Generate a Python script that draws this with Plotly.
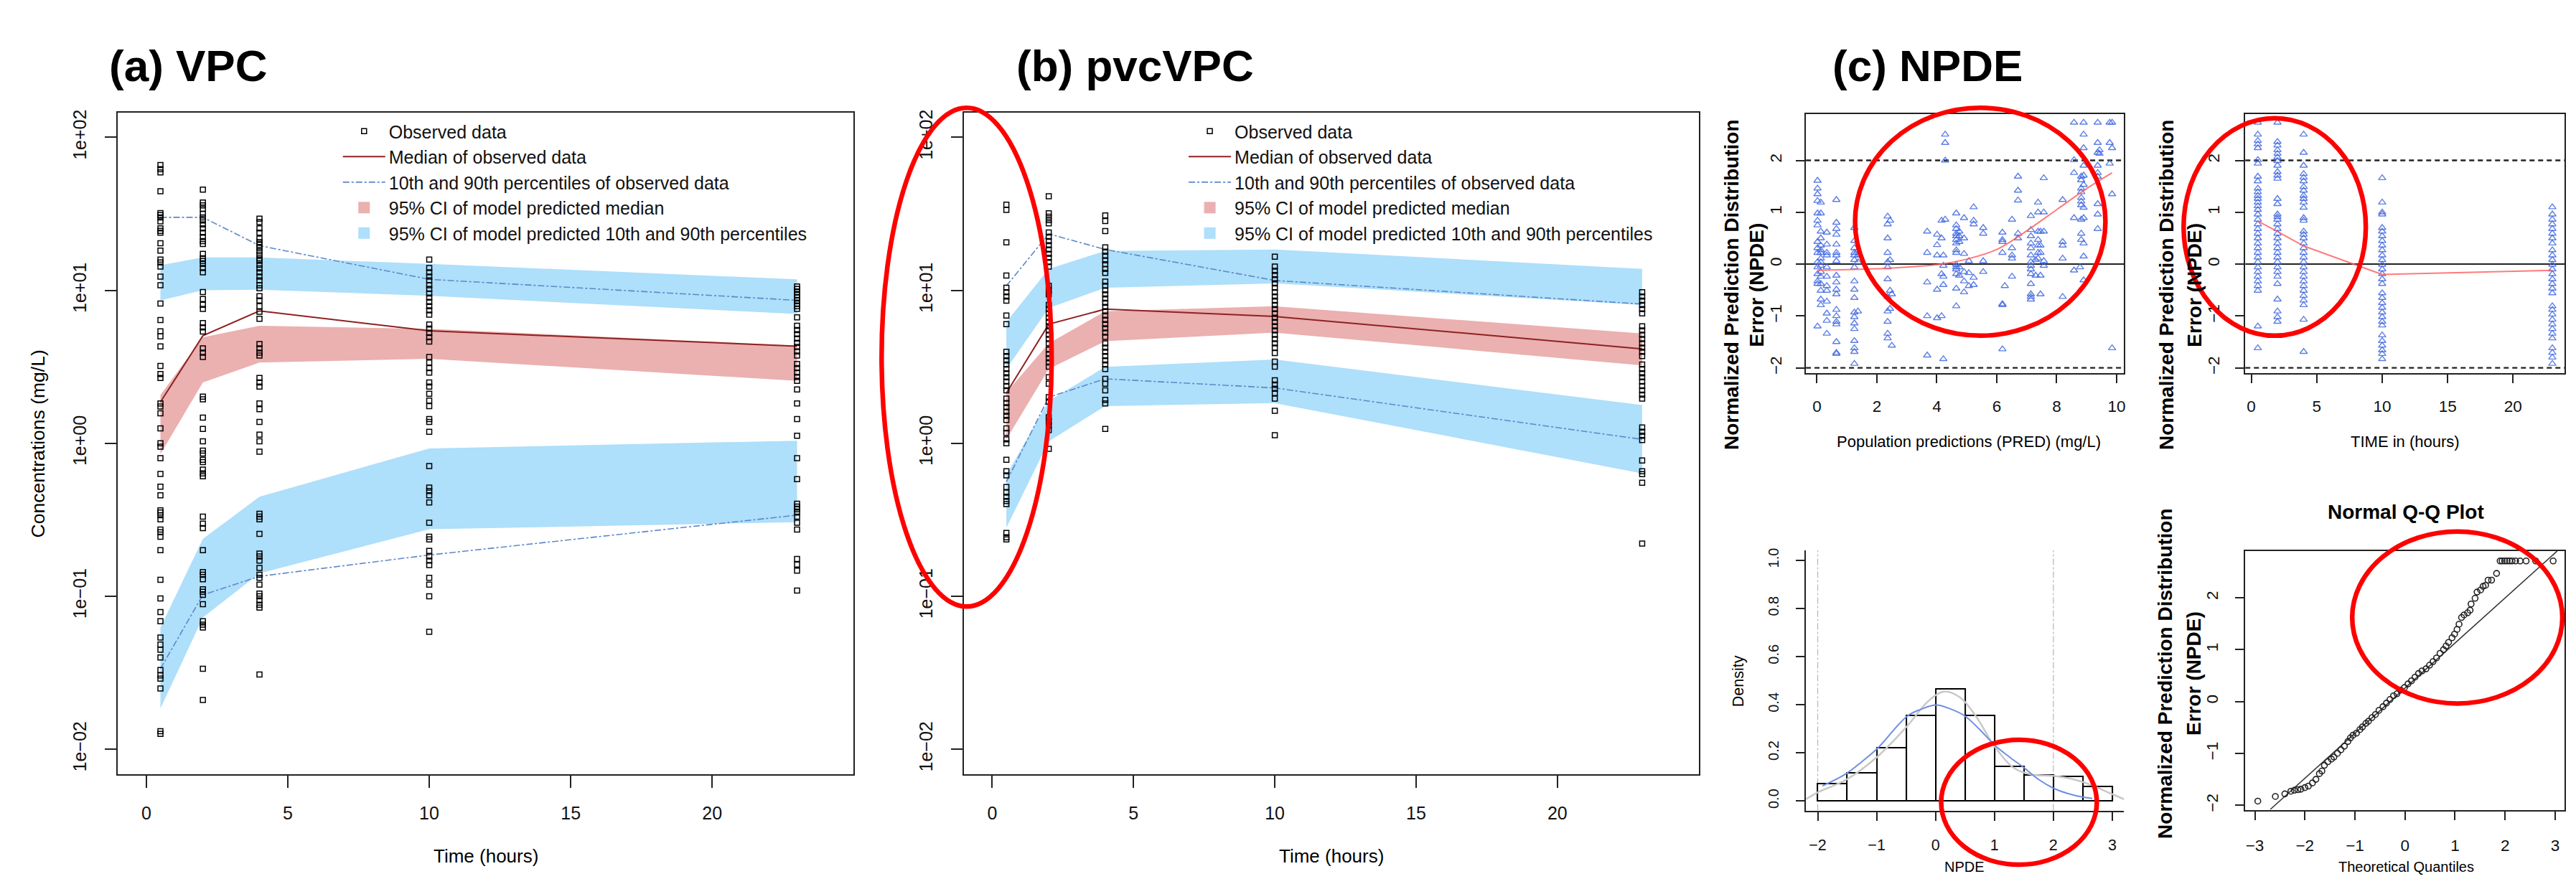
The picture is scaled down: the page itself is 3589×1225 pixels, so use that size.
import plotly.graph_objects as go

W, H = 3589, 1225
def fx(p): return p / W
def fy(p): return 1 - p / H

FONT = "Liberation Sans, Arial, sans-serif"

# ===================== DATA =====================
times = [0.5, 2, 4, 10, 23]

# ---- (a) VPC ----
a_obs_05 = [66, 62, 59, 44.5, 32, 31, 30, 28.2, 25.4, 24.5, 23.8, 20.3, 18.2, 15.9, 15.2, 14.3, 12.3, 10.8, 8.2, 6.4,
            5.4, 5.0, 4.3, 3.2, 2.84, 2.67, 1.82, 1.74, 1.57, 1.25, 1.0, 0.95, 0.80, 0.63, 0.52, 0.457, 0.364, 0.353,
            0.339, 0.318, 0.273, 0.262, 0.245, 0.20, 0.128, 0.0966, 0.0787, 0.0686, 0.0537, 0.0483, 0.0447, 0.0398,
            0.0329, 0.0304, 0.0289, 0.0249, 0.0131, 0.0126]
a_obs_2 = [45.6, 37.5, 35.9, 34.1, 31.6, 30, 28.6, 27, 25.4, 23.8, 22.3, 21, 20.1, 17.3, 16.2, 15.6, 14.9, 14, 13.1,
           9.75, 8.77, 8.05, 7.55, 6.1, 5.73, 5.38, 4.17, 3.91, 3.67, 2.02, 1.94, 1.47, 1.24, 1.03, 0.895, 0.857, 0.78,
           0.754, 0.672, 0.635, 0.608, 0.331, 0.298, 0.279, 0.2, 0.144, 0.138, 0.129, 0.111, 0.107, 0.102, 0.0887,
           0.0686, 0.0652, 0.0625, 0.0336, 0.021]
a_obs_4 = [29.4, 27.9, 25.4, 23.8, 21.8, 20.7, 19.8, 19, 18, 17.1, 16.2, 15.6, 14.7, 13.9, 13.1, 12.3, 11.6, 10.8, 10.3,
           9.15, 8.58, 7.88, 7.24, 6.51, 4.45, 4.17, 3.91, 3.75, 2.67, 2.5, 2.35, 1.82, 1.67, 1.38, 1.14, 1.03, 0.88,
           0.346, 0.331, 0.318, 0.256, 0.19, 0.182, 0.171, 0.153, 0.138, 0.132, 0.119, 0.104, 0.1, 0.0938, 0.088,
           0.0843, 0.0308]
a_obs_10 = [15.9, 14, 13.1, 12.3, 11.6, 10.8, 10.2, 9.54, 8.96, 8.4, 7.88, 7.4, 6.94, 5.98, 5.61, 5.26, 4.94, 4.63, 3.67,
            3.37, 3.1, 2.9, 2.5, 2.35, 2.11, 1.9, 1.75, 1.44, 1.38, 1.19, 0.71, 0.513, 0.487, 0.457, 0.41, 0.302, 0.245,
            0.235, 0.198, 0.182, 0.171, 0.16, 0.132, 0.119, 0.1, 0.0586]
a_obs_23 = [10.6, 10.2, 9.75, 9.33, 8.96, 8.58, 8.2, 7.88, 7.55, 6.65, 5.86, 5.5, 5.16, 4.84, 4.54, 4.26, 3.99, 3.75,
            3.3, 3.1, 2.9, 2.72, 2.56, 2.25, 1.82, 1.44, 1.12, 0.8, 0.583, 0.402, 0.385, 0.37, 0.353, 0.331, 0.302,
            0.273, 0.175, 0.161, 0.147, 0.109]
a_med_hi = [2.07, 4.94, 5.86, 5.6, 4.35]
a_med_lo = [0.85, 2.5, 3.37, 3.57, 2.56]
a_p90_hi = [14.6, 16.4, 16.4, 14.9, 11.8]
a_p90_lo = [8.6, 10.0, 10.1, 9.2, 7.0]
a_p10_hi = [0.0625, 0.237, 0.447, 0.925, 1.04]
a_p10_lo = [0.0185, 0.0726, 0.141, 0.274, 0.305]
a_obs_p50 = [1.86, 5.05, 7.33, 5.44, 4.31]
a_obs_p90 = [30, 30, 19.6, 11.8, 8.6]
a_obs_p10 = [0.0336, 0.102, 0.135, 0.186, 0.339]

# ---- (b) pvcVPC ----
b_obs_05 = [36.3, 33.6, 20.6, 12.5, 10.4, 9.73, 9.12, 8.55, 6.84, 6.01, 3.96, 3.72, 3.48, 3.27, 3.06, 2.87, 2.7, 2.53,
            2.37, 2.22, 1.96, 1.83, 1.72, 1.61, 1.51, 1.42, 1.25, 1.17, 1.06, 1.0, 0.78, 0.656, 0.616, 0.518, 0.476,
            0.447, 0.419, 0.40, 0.259, 0.243, 0.235]
b_obs_2 = [41.2, 31.9, 30.3, 28.8, 27.4, 23.9, 22.4, 21, 19.7, 18.5, 17.3, 16.3, 15.3, 14.3, 10.7, 10.0, 9.42, 8.03,
           7.53, 7.06, 6.62, 6.21, 5.82, 5.46, 5.12, 4.8, 4.5, 4.09, 3.84, 3.6, 3.38, 3.17, 2.7, 2.45, 2.0, 1.87, 1.48,
           1.39, 1.31, 1.22, 0.92]
b_obs_4 = [30.9, 28.4, 24.4, 19.1, 17.9, 16.8, 15.7, 14.8, 13.8, 13.0, 11.4, 10.7, 10.0, 9.42, 8.84, 8.28, 7.78, 7.29,
           6.84, 6.41, 6.01, 5.64, 5.29, 4.96, 4.5, 4.22, 3.96, 3.72, 3.48, 3.27, 3.06, 2.64, 2.45, 2.22, 1.92, 1.82,
           1.24]
b_obs_10 = [16.6, 14.3, 13.4, 12.6, 11.8, 11.1, 10.4, 9.73, 9.12, 8.55, 8.03, 7.53, 7.06, 6.62, 6.21, 5.82, 5.46, 5.12,
            4.8, 4.5, 4.22, 3.89, 3.42, 3.17, 2.58, 2.42, 2.27, 2.13, 1.96, 1.63, 1.13]
b_obs_23 = [9.73, 9.12, 8.55, 8.03, 7.53, 7.06, 5.82, 5.46, 5.12, 4.8, 4.5, 4.22, 3.96, 3.72, 3.27, 3.06, 2.87, 2.7,
            2.53, 2.37, 2.22, 2.08, 1.96, 1.27, 1.19, 1.12, 1.05, 0.771, 0.656, 0.628, 0.552, 0.221]
b_med_hi = [2.15, 4.5, 7.3, 7.87, 5.22]
b_med_lo = [1.06, 3.06, 4.65, 5.29, 3.23]
b_p90_hi = [6.2, 13.8, 18.1, 18.5, 13.8]
b_p90_lo = [3.06, 7.67, 10.4, 11.1, 8.03]
b_p10_hi = [0.62, 1.89, 3.16, 3.53, 1.78]
b_p10_lo = [0.28, 1.03, 1.75, 1.83, 0.636]
b_obs_p50 = [2.13, 6.0, 7.53, 6.75, 4.14]
b_obs_p90 = [10.7, 23.4, 18.5, 11.6, 8.13]
b_obs_p10 = [0.56, 2.0, 2.64, 2.3, 1.06]

vpc_ticks = [0.01, 0.1, 1, 10, 100]
vpc_ticktext = ["1e\u221202", "1e\u221201", "1e+00", "1e+01", "1e+02"]
time_ticks = [0, 5, 10, 15, 20]

legend_labels = ["Observed data", "Median of observed data", "10th and 90th percentiles of observed data",
                 "95% CI of model predicted median", "95% CI of model predicted 10th and 90th percentiles"]

# ---- (c) NPDE vs PRED ----
c1_pred_cols = [0.02, 0.13, 0.33, 0.65, 1.25, 1.37, 2.36, 2.44, 2.50, 3.68, 4.01, 4.16, 4.22, 4.28, 4.65, 4.75, 4.91,
                5.07, 5.23, 5.55, 6.19, 6.27, 6.51, 6.71, 7.14, 7.30, 7.38, 7.46, 7.57, 8.20, 8.58, 8.78, 8.82, 8.90,
                9.37, 9.43, 9.77, 9.85]
c1_npde_cols = [
    [1.61, 1.46, 1.35, 1.22, 0.98, 0.84, 0.75, 0.43, 0.31, 0.22, 0.04, -0.06, -0.19, -0.33, -0.38, -1.20],
    [1.19, 0.98, 0.63, 0.50, 0.36, 0.27, 0.22, 0.11, 0.04, -0.03, -0.15, -0.24, -0.38, -0.51, -0.68, -0.79],
    [0.61, 0.38, 0.22, 0.17, -0.06, -0.24, -0.42, -0.51, -0.72, -0.95, -1.09, -1.34],
    [1.24, 0.80, 0.68, 0.57, 0.38, 0.22, 0.17, 0.06, -0.22, -0.35, -0.49, -0.58, -0.88, -1.00, -1.11, -1.16, -1.50,
     -1.71, -1.73],
    [0.70, 0.45, 0.31, 0.22, 0.17, 0.08, -0.06, -0.33, -0.49, -0.65, -0.93, -1.02, -1.14, -1.25, -1.48, -1.62, -1.69,
     -1.92],
    [0.27, 0.17, 0.04, -0.91],
    [0.92, 0.77, 0.50, 0.22, 0.04, -0.06, -0.29, -0.63, -0.91, -1.11, -1.34, -1.43],
    [0.84, 0.08, -0.51, -0.86],
    [-0.58, -1.57],
    [0.63, 0.22, -0.35, -1.00, -1.76],
    [0.57, 0.37, 0.17, -0.49, -1.04],
    [0.84, 0.50, -0.19, -1.00],
    [0.17, -0.03, -0.24, -0.40, -1.83],
    [2.50, 2.34, 2.00, 0.86],
    [0.98, 0.75, 0.68, 0.59, 0.54, 0.47, 0.40, 0.27, 0.22, -0.01, -0.06, -0.10, -0.19, -0.47, -0.81],
    [0.63, 0.54, 0.43, -0.06, -0.22],
    [0.89, 0.50, 0.20, -0.15, -0.33, -0.54],
    [0.06, -0.17, -0.42],
    [1.10, 0.84, 0.77, -0.26, -0.40],
    [0.70, 0.59, 0.06, -0.15],
    [0.61, 0.47, 0.43, 0.22, -0.77, -0.79, -1.64],
    [-0.42],
    [0.86, 0.31, 0.17, 0.11, -0.24],
    [1.69, 1.42, 1.23, 0.59, 0.50],
    [0.93, 0.66, 0.54, 0.40, 0.31, 0.17, 0.04, -0.03, -0.10, -0.19, -0.38, -0.58, -0.63, -0.68],
    [0.08, -0.22],
    [1.19, 1.00, 0.63, 0.47, 0.36, 0.22, 0.11],
    [0.63, 0.36, 0.22, -0.22, -0.58],
    [1.66, 1.00, 0.63, 0.06, -0.03],
    [1.24, 0.43, 0.36, 0.11, -0.63],
    [2.73, 2.01, 1.76, 0.89, -0.12],
    [-0.06],
    [1.69, 1.62, 1.46, 1.39, 1.28, 1.21, 1.14, 0.86, 0.59, 0.47],
    [2.73, 2.50, 2.24, 1.90, 1.71, 1.53, 1.09, 0.89, 0.40, 0.15, -0.31],
    [2.73, 2.34, 2.15, 1.90, 1.76, 1.69, 1.16, 0.96, 0.68],
    [2.20, 2.13],
    [2.73, 2.34, 1.94],
    [2.73, 2.24, 1.35, -1.62],
]
c1_smooth_x = [0.02, 1.99, 4.01, 5.03, 6.03, 7.02, 8.0, 9.01, 9.85]
c1_smooth_y = [-0.12, -0.09, -0.01, 0.10, 0.29, 0.65, 1.05, 1.46, 1.76]

# ---- (c) NPDE vs TIME ----
c2_npde_05 = [2.73, 2.50, 2.38, 2.31, 2.24, 2.01, 1.94, 1.69, 1.60, 1.46, 1.39, 1.32, 1.26, 1.19, 1.12, 1.05, 0.96,
              0.86, 0.77, 0.68, 0.59, 0.50, 0.40, 0.31, 0.22, 0.13, 0.04, -0.06, -0.15, -0.24, -0.33, -0.42, -0.51,
              -1.20, -1.62]
c2_npde_2 = [2.73, 2.36, 2.29, 2.20, 2.13, 2.06, 1.99, 1.90, 1.78, 1.71, 1.65, 1.26, 1.16, 0.96, 0.91, 0.86, 0.77,
             0.68, 0.59, 0.50, 0.40, 0.31, 0.22, 0.13, 0.04, -0.06, -0.15, -0.24, -0.38, -0.68, -0.91, -1.02, -1.11]
c2_npde_4 = [2.50, 2.15, 1.90, 1.74, 1.67, 1.60, 1.49, 1.42, 1.32, 1.26, 1.19, 1.09, 0.89, 0.84, 0.63, 0.57, 0.50,
             0.40, 0.31, 0.22, 0.13, 0.04, -0.06, -0.15, -0.24, -0.33, -0.42, -0.51, -0.61, -0.70, -0.79, -1.07, -1.69]
c2_npde_10 = [1.66, 1.19, 1.00, 0.96, 0.70, 0.63, 0.54, 0.45, 0.36, 0.27, 0.17, 0.08, -0.01, -0.10, -0.19, -0.29,
              -0.38, -0.56, -0.65, -0.75, -0.84, -0.93, -1.02, -1.11, -1.18, -1.37, -1.48, -1.57, -1.66, -1.73, -1.83]
c2_npde_23 = [1.10, 0.96, 0.86, 0.77, 0.68, 0.59, 0.50, 0.40, 0.27, 0.17, 0.08, -0.01, -0.10, -0.19, -0.29, -0.38,
              -0.47, -0.56, -0.81, -0.88, -0.97, -1.07, -1.16, -1.25, -1.34, -1.43, -1.62, -1.71, -1.80, -1.92]
c2_smooth_y = [0.83, 0.63, 0.35, -0.20, -0.12]

npde_ref_solid = [0]
npde_ref_dashed = [-2, 2]

# ---- (c) histogram ----
hist_edges = [-2, -1.5, -1, -0.5, 0, 0.5, 1, 1.5, 2, 2.5, 3]
hist_density = [0.072, 0.115, 0.22, 0.355, 0.466, 0.355, 0.143, 0.106, 0.102, 0.061]
norm_curve_x = [-1.92, -1.51, -1.25, -0.99, -0.48, -0.25, 0.01, 0.25, 0.50, 0.75, 1.0, 1.25, 1.5, 1.75, 1.99, 2.25,
                2.51, 2.66]
norm_curve_y = [0.062, 0.114, 0.163, 0.217, 0.352, 0.38, 0.398, 0.382, 0.352, 0.296, 0.232, 0.183, 0.138, 0.089,
                0.054, 0.03, 0.015, 0.01]
kde_curve_x = [-2.2, -2.0, -1.51, -0.99, -0.48, -0.12, 0.15, 0.42, 0.69, 1.0, 1.32, 1.63, 1.99, 2.35, 2.66, 2.93, 3.2]
kde_curve_y = [0.007, 0.035, 0.089, 0.183, 0.311, 0.415, 0.454, 0.429, 0.35, 0.227, 0.138, 0.109, 0.104, 0.089,
               0.064, 0.035, 0.007]
hist_ref_v = [-2, 2]

# ---- (c) QQ ----
qq_theoretical = [-2.94, -2.59, -2.40, -2.28, -2.21, -2.14, -2.08, -2.00, -1.93, -1.85, -1.78, -1.71, -1.66, -1.61,
                  -1.54, -1.47, -1.42, -1.35, -1.28, -1.21, -1.14, -1.09, -1.04, -0.97, -0.90, -0.85, -0.78, -0.73,
                  -0.66, -0.59, -0.52, -0.44, -0.37, -0.30, -0.23, -0.16, -0.09, -0.01, 0.06, 0.13, 0.20, 0.27, 0.34,
                  0.42, 0.49, 0.56, 0.63, 0.70, 0.77, 0.82, 0.87, 0.94, 0.99, 1.04, 1.08, 1.13, 1.18, 1.25, 1.30,
                  1.32, 1.40, 1.44, 1.51, 1.56, 1.61, 1.66, 1.73, 1.83, 1.90, 1.94, 1.99, 2.04, 2.09, 2.14, 2.21,
                  2.30, 2.42, 2.61, 2.96]
qq_sample = [-1.92, -1.83, -1.78, -1.73, -1.71, -1.70, -1.69, -1.66, -1.63, -1.57, -1.50, -1.39, -1.34, -1.23, -1.16,
             -1.11, -1.07, -1.00, -0.93, -0.86, -0.77, -0.70, -0.65, -0.61, -0.54, -0.49, -0.42, -0.38, -0.31, -0.25,
             -0.17, -0.10, -0.03, 0.04, 0.11, 0.15, 0.22, 0.27, 0.34, 0.40, 0.47, 0.54, 0.59, 0.63, 0.70, 0.77, 0.84,
             0.93, 1.00, 1.07, 1.14, 1.23, 1.30, 1.39, 1.49, 1.62, 1.67, 1.71, 1.76, 1.88, 1.99, 2.11, 2.15, 2.22,
             2.24, 2.34, 2.34, 2.47, 2.71, 2.71, 2.71, 2.71, 2.71, 2.71, 2.71, 2.71, 2.71, 2.71, 2.71]
qq_line_x = [-2.69, 3.04]
qq_line_y = [-2.08, 2.90]

# ===================== STYLE =====================
BLUE_FILL = "#AEDFFB"
RED_FILL = "#EBB0B0"
MED_LINE = "#8E2222"
PCT_LINE = "#5F88C8"
NPDE_BLUE = "rgba(65,105,225,0.85)"
SMOOTH_RED = "rgba(255,90,90,0.8)"

fig = go.Figure()


def add_vpc(xa, ya, leg, obs_cols, p90_hi, p90_lo, p10_hi, p10_lo, med_hi, med_lo, o50, o90, o10):
    rev = times[::-1]
    for hi, lo, col in [(p90_hi, p90_lo, BLUE_FILL), (p10_hi, p10_lo, BLUE_FILL), (med_hi, med_lo, RED_FILL)]:
        fig.add_trace(go.Scatter(x=times + rev, y=hi + lo[::-1], fill="toself", fillcolor=col, mode="lines",
                                 line=dict(width=0, color=col), hoverinfo="skip", showlegend=False,
                                 xaxis=xa, yaxis=ya))
    fig.add_trace(go.Scatter(x=times, y=o50, mode="lines", line=dict(color=MED_LINE, width=2),
                             name=legend_labels[1], legend=leg, legendrank=2, xaxis=xa, yaxis=ya))
    fig.add_trace(go.Scatter(x=times, y=o90, mode="lines", line=dict(color=PCT_LINE, width=1.6, dash="dashdot"),
                             name=legend_labels[2], legend=leg, legendrank=3, xaxis=xa, yaxis=ya))
    fig.add_trace(go.Scatter(x=times, y=o10, mode="lines", line=dict(color=PCT_LINE, width=1.6, dash="dashdot"),
                             showlegend=False, xaxis=xa, yaxis=ya))
    xs, ys = [], []
    for t, col in zip(times, obs_cols):
        xs += [t] * len(col)
        ys += col
    fig.add_trace(go.Scatter(x=xs, y=ys, mode="markers",
                             marker=dict(symbol="square-open", size=7, color="black", line=dict(width=1.5)),
                             name=legend_labels[0], legend=leg, legendrank=1, xaxis=xa, yaxis=ya))
    fig.add_trace(go.Scatter(x=[None], y=[None], mode="markers",
                             marker=dict(symbol="square", size=16, color=RED_FILL),
                             name=legend_labels[3], legend=leg, legendrank=4, xaxis=xa, yaxis=ya))
    fig.add_trace(go.Scatter(x=[None], y=[None], mode="markers",
                             marker=dict(symbol="square", size=16, color=BLUE_FILL),
                             name=legend_labels[4], legend=leg, legendrank=5, xaxis=xa, yaxis=ya))


add_vpc("x", "y", "legend", [a_obs_05, a_obs_2, a_obs_4, a_obs_10, a_obs_23], a_p90_hi, a_p90_lo, a_p10_hi, a_p10_lo,
        a_med_hi, a_med_lo, a_obs_p50, a_obs_p90, a_obs_p10)
add_vpc("x2", "y2", "legend2", [b_obs_05, b_obs_2, b_obs_4, b_obs_10, b_obs_23], b_p90_hi, b_p90_lo, b_p10_hi,
        b_p10_lo, b_med_hi, b_med_lo, b_obs_p50, b_obs_p90, b_obs_p10)

# c1 scatter
c1x, c1y = [], []
for p, col in zip(c1_pred_cols, c1_npde_cols):
    c1x += [p] * len(col)
    c1y += col
fig.add_trace(go.Scatter(x=c1x, y=c1y, mode="markers", showlegend=False, xaxis="x3", yaxis="y3",
                         marker=dict(symbol="triangle-up-open", size=9, color=NPDE_BLUE, line=dict(width=1.4))))
fig.add_trace(go.Scatter(x=c1_smooth_x, y=c1_smooth_y, mode="lines", line=dict(color=SMOOTH_RED, width=2,
                         shape="spline"), showlegend=False, xaxis="x3", yaxis="y3"))

# c2 scatter
c2x, c2y = [], []
for t, col in zip(times, [c2_npde_05, c2_npde_2, c2_npde_4, c2_npde_10, c2_npde_23]):
    c2x += [t] * len(col)
    c2y += col
fig.add_trace(go.Scatter(x=c2x, y=c2y, mode="markers", showlegend=False, xaxis="x4", yaxis="y4",
                         marker=dict(symbol="triangle-up-open", size=9, color=NPDE_BLUE, line=dict(width=1.4))))
fig.add_trace(go.Scatter(x=times, y=c2_smooth_y, mode="lines", line=dict(color=SMOOTH_RED, width=2),
                         showlegend=False, xaxis="x4", yaxis="y4"))

# histogram
centers = [(hist_edges[i] + hist_edges[i + 1]) / 2 for i in range(len(hist_density))]
widths = [hist_edges[i + 1] - hist_edges[i] for i in range(len(hist_density))]
fig.add_trace(go.Bar(x=centers, y=hist_density, width=widths, showlegend=False, xaxis="x5", yaxis="y5",
                     marker=dict(color="white", line=dict(color="black", width=2))))
fig.add_trace(go.Scatter(x=kde_curve_x, y=kde_curve_y, mode="lines", showlegend=False, xaxis="x5", yaxis="y5",
                         line=dict(color="#C8C8C8", width=2.5, shape="spline")))
fig.add_trace(go.Scatter(x=norm_curve_x, y=norm_curve_y, mode="lines", showlegend=False, xaxis="x5", yaxis="y5",
                         line=dict(color="#6F8FE0", width=2, shape="spline")))

# QQ
fig.add_trace(go.Scatter(x=qq_line_x, y=qq_line_y, mode="lines", line=dict(color="#333", width=1.6),
                         showlegend=False, xaxis="x6", yaxis="y6"))
fig.add_trace(go.Scatter(x=qq_theoretical, y=qq_sample, mode="markers", showlegend=False, xaxis="x6", yaxis="y6",
                         marker=dict(symbol="circle-open", size=8, color="#222", line=dict(width=1.6))))

# ===================== AXES =====================
def ax(domain, rng, anchor, size, standoff, ticklen=16, angle=0, mirror=True, **kw):
    d = dict(domain=domain, range=rng, anchor=anchor, showgrid=False, zeroline=False, showline=True,
             linecolor="#222", linewidth=2, mirror=mirror, ticks="outside", ticklen=ticklen, tickwidth=2,
             tickcolor="#222", tickfont=dict(family=FONT, size=size, color="#111"), ticklabelstandoff=standoff,
             tickangle=angle)
    d.update(kw)
    return d

vpc_y = [fy(1081), fy(154)]
c_top_y = [fy(518.8), fy(155.4)]
layout_axes = dict(
    xaxis=ax([fx(164.5), fx(1190)], [-1, 25], "y", 25, 14, ticklen=17, tickvals=time_ticks),
    yaxis=ax(vpc_y, [-2.163, 2.161], "x", 25, 16, angle=-90, type="log", tickvals=vpc_ticks,
             ticktext=vpc_ticktext),
    xaxis2=ax([fx(1343.8), fx(2368)], [-1, 25], "y2", 25, 14, ticklen=17, tickvals=time_ticks),
    yaxis2=ax(vpc_y, [-2.163, 2.161], "x2", 25, 16, angle=-90, type="log", tickvals=vpc_ticks,
              ticktext=vpc_ticktext),
    xaxis3=ax([fx(2517.5), fx(2961)], [-0.367, 10.25], "y3", 22.5, 13, ticklen=12, tickvals=[0, 2, 4, 6, 8, 10]),
    yaxis3=ax(c_top_y, [-2.10, 2.90], "x3", 22.5, 11, ticklen=12, angle=-90, tickvals=[-2, -1, 0, 1, 2],
              ticktext=["\u22122", "\u22121", "0", "1", "2"]),
    xaxis4=ax([fx(3130), fx(3575)], [-0.457, 23.93], "y4", 22.5, 13, ticklen=12, tickvals=time_ticks),
    yaxis4=ax(c_top_y, [-2.10, 2.90], "x4", 22.5, 13, ticklen=12, angle=-90, tickvals=[-2, -1, 0, 1, 2],
              ticktext=["\u22122", "\u22121", "0", "1", "2"]),
    xaxis5=ax([fx(2517.5), fx(2961)], [-2.2, 3.2], "y5", 21.5, 16, ticklen=12, mirror=False,
              tickvals=hist_edges[::2]),
    yaxis5=ax([fy(1132), fy(767.5)], [-0.04, 1.04], "x5", 20, 16, ticklen=12, angle=-90, mirror=False,
              tickvals=[0, 0.2, 0.4, 0.6, 0.8, 1.0], ticktext=["0.0", "0.2", "0.4", "0.6", "0.8", "1.0"]),
    xaxis6=ax([fx(3130), fx(3575)], [-3.19, 3.187], "y6", 22.5, 16, ticklen=12,
              tickvals=[-3, -2, -1, 0, 1, 2, 3], ticktext=["\u22123", "\u22122", "\u22121", "0", "1", "2", "3"]),
    yaxis6=ax([fy(1131), fy(768.4)], [-2.087, 2.90], "x6", 22.5, 15, ticklen=12, angle=-90,
              tickvals=[-2, -1, 0, 1, 2], ticktext=["\u22122", "\u22121", "0", "1", "2"]),
)

# ===================== SHAPES =====================
shapes = []
for xa, ya in [("x3", "y3"), ("x4", "y4")]:
    for v in npde_ref_solid:
        shapes.append(dict(type="line", xref=f"{xa} domain", yref=ya, x0=0, x1=1, y0=v, y1=v,
                           line=dict(color="#222", width=2), layer="below"))
    for v in npde_ref_dashed:
        shapes.append(dict(type="line", xref=f"{xa} domain", yref=ya, x0=0, x1=1, y0=v, y1=v,
                           line=dict(color="#222", width=2.4, dash="7px,5px"), layer="below"))
for v in hist_ref_v:
    shapes.append(dict(type="line", xref="x5", yref="y5 domain", x0=v, x1=v, y0=0, y1=1,
                       line=dict(color="#BBBBBB", width=1.3, dash="dashdot"), layer="below"))

# red highlight ellipses (overlay annotations of the original figure)
for (x0, x1, y0, y1) in [(1229, 1466, 147, 846), (2586, 2935, 147, 466.5), (3044, 3298, 161.6, 466.5),
                         (2706, 2923, 1033, 1208), (3279, 3572, 741, 982)]:
    shapes.append(dict(type="circle", xref="paper", yref="paper", x0=fx(x0), x1=fx(x1), y0=fy(y1), y1=fy(y0),
                       line=dict(color="#FF0000", width=6.5), layer="above"))

# ===================== TEXT =====================
def ann(text, x, y, size, bold=False, angle=0, xanchor="center", yanchor="middle"):
    return dict(text=f"<b>{text}</b>" if bold else text, x=fx(x), y=fy(y), xref="paper", yref="paper",
                showarrow=False, font=dict(family=FONT, size=size, color="#000"), textangle=angle,
                xanchor=xanchor, yanchor=yanchor)

annotations = [
    ann("(a) VPC", 150, 88, 62, bold=True, xanchor="left"),
    ann("(b) pvcVPC", 1415, 88, 62, bold=True, xanchor="left"),
    ann("(c) NPDE", 2552, 88, 62, bold=True, xanchor="left"),
    ann("Time (hours)", 677, 1196, 26),
    ann("Time (hours)", 1856, 1196, 26),
    ann("Concentrations (mg/L)", 53, 618, 26.5, angle=-90),
    ann("Population predictions (PRED) (mg/L)", 2745, 615, 22),
    ann("TIME in (hours)", 3353, 615, 22),
    ann("Normalized Prediction Distribution", 2413.6, 395, 28, bold=True, angle=-90),
    ann("Error (NPDE)", 2449, 395, 28, bold=True, angle=-90),
    ann("Normalized Prediction Distribution", 3020, 395, 28, bold=True, angle=-90),
    ann("Error (NPDE)", 3059.6, 395, 28, bold=True, angle=-90),
    ann("Normalized Prediction Distribution", 3018, 940, 28, bold=True, angle=-90),
    ann("Error (NPDE)", 3058, 940, 28, bold=True, angle=-90),
    ann("Density", 2423, 951, 21.5, angle=-90),
    ann("NPDE", 2739, 1224, 20, yanchor="bottom"),
    ann("Theoretical Quantiles", 3354, 1224, 20, yanchor="bottom"),
    ann("Normal Q-Q Plot", 3354, 714, 28, bold=True),
]

legend_common = dict(xanchor="left", yanchor="top", bgcolor="rgba(0,0,0,0)", borderwidth=0,
                     font=dict(family=FONT, size=25, color="#111"), itemwidth=59, tracegroupgap=0,
                     traceorder="normal")

fig.update_layout(
    width=W, height=H, margin=dict(l=0, r=0, t=0, b=0, pad=0),
    paper_bgcolor="white", plot_bgcolor="white", showlegend=True,
    legend=dict(x=fx(473), y=fy(157), **legend_common),
    legend2=dict(x=fx(1652), y=fy(157), **legend_common),
    shapes=shapes, annotations=annotations, bargap=0,
    **layout_axes,
)

fig.write_html("out.html", config={"displayModeBar": False},
               post_script="document.body.style.margin='0';document.body.style.overflow='hidden';")
